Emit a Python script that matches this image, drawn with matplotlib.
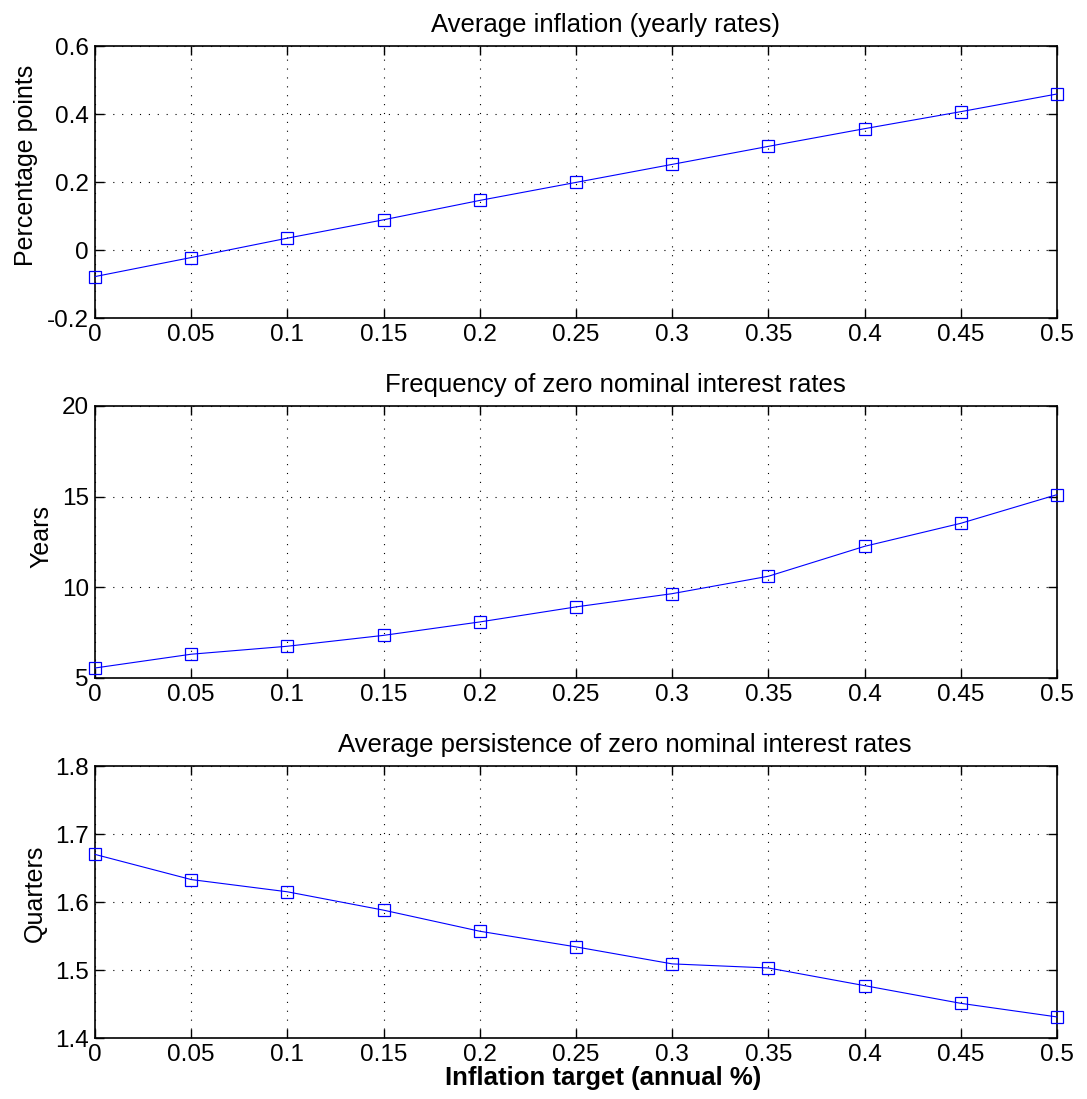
import matplotlib
matplotlib.use("Agg")
import matplotlib.pyplot as plt
from matplotlib.transforms import offset_copy

plt.rcParams["font.family"] = ["Liberation Sans", "DejaVu Sans"]
plt.rcParams["axes.unicode_minus"] = False

# inflation target (annual %)
target = [0, 0.05, 0.1, 0.15, 0.2, 0.25, 0.3, 0.35, 0.4, 0.45, 0.5]
x_ticklabels = ["0", "0.05", "0.1", "0.15", "0.2", "0.25", "0.3", "0.35", "0.4", "0.45", "0.5"]

avg_inflation = [-0.078, -0.022, 0.035, 0.089, 0.146, 0.199, 0.252, 0.305, 0.357, 0.407, 0.459]
zlb_freq = [5.55, 6.31, 6.75, 7.35, 8.09, 8.92, 9.65, 10.61, 12.26, 13.53, 15.11]
zlb_persist = [1.670, 1.633, 1.615, 1.588, 1.557, 1.534, 1.509, 1.503, 1.477, 1.451, 1.431]

panels = [
    ("Average inflation (yearly rates)", "Percentage points", avg_inflation,
     [-0.2, 0, 0.2, 0.4, 0.6], ["-0.2", "0", "0.2", "0.4", "0.6"]),
    ("Frequency of zero nominal interest rates", "Years", zlb_freq,
     [5, 10, 15, 20], ["5", "10", "15", "20"]),
    ("Average persistence of zero nominal interest rates", "Quarters", zlb_persist,
     [1.4, 1.5, 1.6, 1.7, 1.8], ["1.4", "1.5", "1.6", "1.7", "1.8"]),
]

fig = plt.figure(figsize=(10.87, 10.99), dpi=100)
bottoms = [0.7106, 0.3831, 0.0555]
axes = []

for (title, ylab, vals, yt, ytl), b in zip(panels, bottoms):
    ax = fig.add_axes([0.0874, b, 0.885, 0.2475])
    ax.plot(target, vals, color="blue", lw=0.8, marker="s", ms=8,
            mfc="none", mec="blue", mew=0.9, clip_on=False, zorder=3)
    ax.set_xlim(0, 0.5)
    ax.set_ylim(yt[0], yt[-1])
    ax.set_xticks(target)
    ax.set_xticklabels(x_ticklabels)
    ax.set_yticks(yt)
    ax.set_yticklabels(ytl)
    ax.grid(True, color="black", linestyle=(0, (1, 7)), lw=0.8)
    ax.tick_params(direction="in", top=True, right=True, length=6.5, width=1,
                   labelsize=17.5)
    ax.tick_params(axis="x", pad=4)
    ax.tick_params(axis="y", pad=4.5)
    for s in ax.spines.values():
        s.set_linewidth(1.2)
    ax.set_title(title, fontsize=18.5, pad=10)
    ax.set_ylabel(ylab, fontsize=18, labelpad=6)
    axes.append(ax)

axes[-1].set_xlabel("Inflation target (annual %)", fontsize=18.5,
                    fontweight="bold", labelpad=0)

# titles and axis labels sit a little off-centre (shifted by ~8.5% of their length)
fig.canvas.draw()
for ax in axes:
    labels = [ax.title, ax.xaxis.label]
    for t in labels:
        if t.get_text():
            w = t.get_window_extent().width
            t.set_transform(offset_copy(t.get_transform(), fig=fig,
                                        x=0.085 * w, y=0, units="dots"))
    yl = ax.yaxis.label
    h = yl.get_window_extent().height
    yl.set_transform(offset_copy(yl.get_transform(), fig=fig,
                                 x=0, y=0.085 * h, units="dots"))

fig.savefig("out.png", dpi=100)
